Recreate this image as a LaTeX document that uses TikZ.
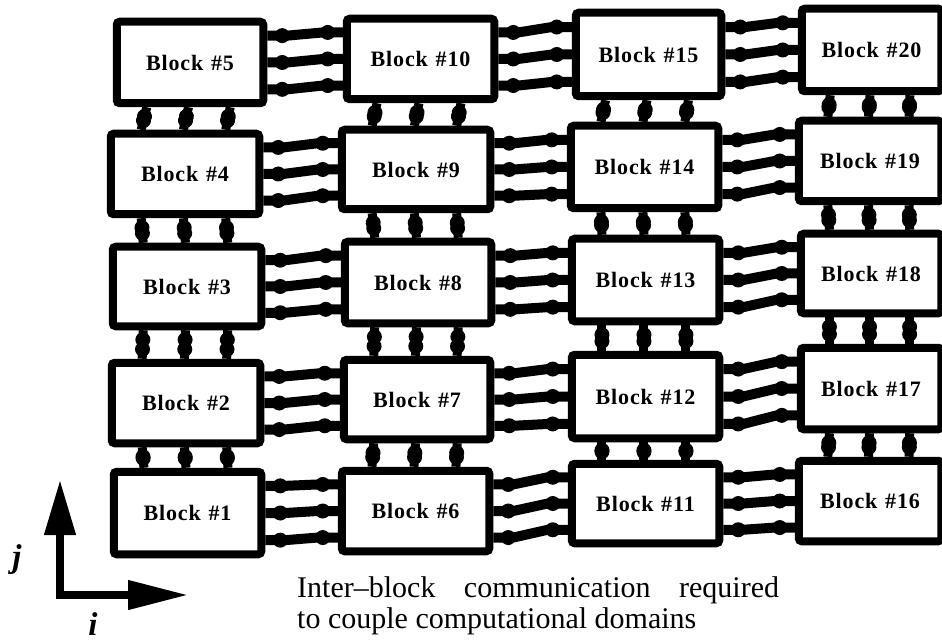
\documentclass[tikz,border=0pt]{standalone}
\usepackage{fontspec}
\setmainfont{Liberation Serif}
\newfontfamily\blockfont[LetterSpace=4]{Liberation Serif}
\usetikzlibrary{calc,arrows.meta,decorations.markings}
\pgfdeclarelayer{bg}
\pgfsetlayers{bg,main}
\tikzset{
  blk/.style={draw, line width=8pt, fill=white, rounded corners=3pt, inner sep=0pt,
    font=\blockfont\bfseries\fontsize{22}{24}\selectfont},
  bulbs/.style={postaction={decorate}, decoration={markings,
    mark=at position #1 with {\fill (0,0) circle (7.5pt);},
    mark=at position -#1 with {\fill (0,0) circle (7.5pt);}}},
  hconn/.style={line width=10pt, line join=round, bulbs=15pt},
  vconn/.style={line width=9pt, bulbs=9.5pt},
  axisline/.style={line width=7.5pt, line join=miter,
    {Triangle[length=55pt,width=30pt]}-{Triangle[length=60pt,width=28pt]}},
  axislabel/.style={font=\bfseries\itshape\fontsize{33}{33}\selectfont, inner sep=0pt},
  caption/.style={font=\fontsize{30}{31}\selectfont, align=left, inner sep=0pt, anchor=base west}
}
\newcommand\mkblock[5]{\node[blk, minimum width=#4pt, minimum height=#5pt] (b#1) at (#2,#3) {Block\hspace{0.35em}\##1};}
\begin{document}
\begin{tikzpicture}[x=1pt,y=-1pt]
\useasboundingbox (0,0) rectangle (942,644);
% blocks
\mkblock{1}{187.5}{513}{147.5}{82.5}
\mkblock{2}{186}{403}{148.5}{80.5}
\mkblock{3}{187}{286.5}{148.5}{79.5}
\mkblock{4}{185}{174}{148.5}{80.5}
\mkblock{5}{190}{62.5}{146.5}{81.5}
\mkblock{6}{415.5}{511}{147.5}{80.5}
\mkblock{7}{417}{399.5}{146.5}{79.5}
\mkblock{8}{418}{282.5}{146.5}{81.5}
\mkblock{9}{416}{169.5}{148.5}{79.5}
\mkblock{10}{420.5}{59}{147.5}{80.5}
\mkblock{11}{645.5}{503.5}{147.5}{79.5}
\mkblock{12}{645.5}{396.5}{147.5}{83.5}
\mkblock{13}{645.5}{280}{147.5}{82.5}
\mkblock{14}{644.5}{167}{147.5}{82.5}
\mkblock{15}{648.5}{54.5}{145.5}{83.5}
\mkblock{16}{870}{501}{142.5}{80.5}
\mkblock{17}{871}{388.5}{140.5}{81.5}
\mkblock{18}{871}{273.5}{140.5}{79.5}
\mkblock{19}{870}{161}{142.5}{80.5}
\mkblock{20}{871.5}{50}{139.5}{82.5}
% connectors (behind blocks)
\begin{pgfonlayer}{bg}
\foreach \c in {0,1,2}{
  \foreach \r in {1,...,5}{
    \pgfmathtruncatemacro\ba{\c*5+\r}
    \pgfmathtruncatemacro\bb{\ba+5}
    \foreach \f in {0.2,0.5,0.8}{
      \draw[hconn] ($(b\ba.north east)!\f!(b\ba.south east)$) -- ++(20,0)
        -- ($(b\bb.north west)!\f!(b\bb.south west)+(-20,0)$)
        -- ($(b\bb.north west)!\f!(b\bb.south west)$);
    }
  }
}
\foreach \c in {0,1,2,3}{
  \foreach \r in {1,...,4}{
    \pgfmathtruncatemacro\ba{\c*5+\r+1}
    \pgfmathtruncatemacro\bb{\c*5+\r}
    \foreach \f in {0.22,0.49,0.76}{
      \draw[vconn] ($(b\ba.south west)!\f!(b\ba.south east)$) -- ($(b\bb.north west)!\f!(b\bb.north east)$);
    }
  }
}
\end{pgfonlayer}
% axes
\coordinate (origin) at (60,595);
\coordinate (jtip) at (60,480);
\coordinate (itip) at (188,595);
\draw[axisline] (jtip) -- (origin) -- (itip);
\node[axislabel] (jlab) at (17,560) {j};
\node[axislabel] (ilab) at (93,624) {i};
% caption
\node[caption] (cap) at (297,628) {Inter--block\hspace{0.95em}communication\hspace{0.95em}required\\to couple computational domains};
\end{tikzpicture}
\end{document}
